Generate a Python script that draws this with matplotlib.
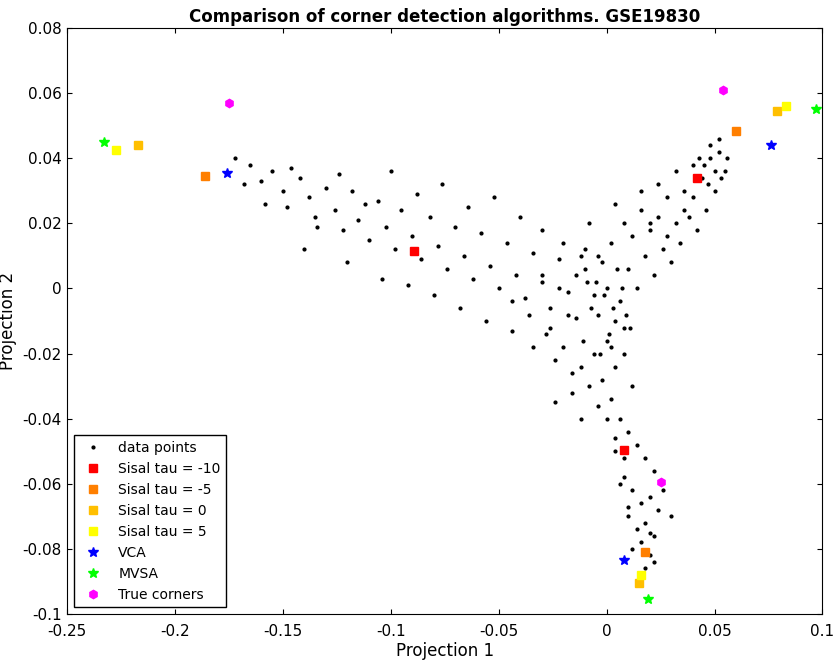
import matplotlib.pyplot as plt

# hand-read sample of the data cloud (approximate)
data_x = [
    -0.172, -0.165, -0.160, -0.155, -0.150, -0.148, -0.142, -0.138, -0.135, -0.130,
    -0.126, -0.122, -0.118, -0.115, -0.110, -0.106, -0.102, -0.098, -0.095, -0.090,
    -0.086, -0.082, -0.078, -0.074, -0.070, -0.066, -0.062, -0.058, -0.054, -0.050,
    -0.046, -0.042, -0.038, -0.034, -0.030, -0.026, -0.022, -0.018, -0.014, -0.010,
    -0.168, -0.158, -0.146, -0.134, -0.124, -0.112, -0.100, -0.088, -0.076, -0.064,
    -0.052, -0.040, -0.030, -0.020, -0.012, -0.140, -0.120, -0.104, -0.092, -0.080,
    -0.068, -0.056, -0.044, -0.034, -0.024, -0.016, -0.008, -0.004, 0.000, 0.004,
    0.008, 0.012, 0.016, 0.020, 0.024, 0.028, 0.032, 0.036, 0.040, 0.044,
    0.048, 0.052, 0.055, 0.050, 0.046, 0.042, 0.038, 0.034, 0.030, 0.026,
    0.022, 0.018, 0.014, 0.010, 0.006, 0.002, -0.002, -0.006, -0.010, -0.014,
    -0.018, -0.022, -0.026, -0.030, -0.006, -0.002, 0.002, 0.006, 0.010, 0.014,
    0.018, 0.022, 0.004, 0.008, 0.012, 0.016, 0.020, 0.024, 0.010, 0.014,
    0.018, 0.022, 0.012, 0.016, 0.020, 0.018, 0.022, 0.020, -0.004, 0.000,
    0.004, 0.008, -0.008, -0.012, -0.016, 0.000, 0.004, 0.008, -0.004, 0.002,
    0.045, 0.050, 0.053, 0.048, 0.043, 0.056, 0.052, 0.047, 0.040, 0.036,
    0.032, 0.028, 0.024, 0.020, 0.016, 0.012, 0.008, 0.004, -0.020, -0.028,
    -0.036, -0.044, -0.024, -0.012, 0.006, 0.010, 0.026, 0.030, -0.001, 0.003,
    -0.005, 0.001, 0.005, -0.003, 0.007, -0.007, 0.009, -0.009, 0.011, -0.011,
]
data_y = [
    0.040, 0.038, 0.033, 0.036, 0.030, 0.025, 0.034, 0.028, 0.022, 0.031,
    0.024, 0.018, 0.030, 0.021, 0.015, 0.027, 0.019, 0.012, 0.024, 0.016,
    0.009, 0.022, 0.013, 0.006, 0.019, 0.010, 0.003, 0.017, 0.007, 0.000,
    0.014, 0.004, -0.003, 0.011, 0.002, -0.006, 0.009, -0.001, -0.009, 0.006,
    0.032, 0.026, 0.037, 0.019, 0.035, 0.026, 0.036, 0.029, 0.032, 0.025,
    0.028, 0.022, 0.018, 0.014, 0.010, 0.012, 0.008, 0.003, 0.001, -0.002,
    -0.006, -0.010, -0.013, -0.018, -0.022, -0.026, 0.020, 0.010, 0.000, -0.010,
    -0.020, -0.030, 0.030, 0.020, 0.032, 0.028, 0.036, 0.030, 0.038, 0.034,
    0.040, 0.042, 0.036, 0.030, 0.024, 0.018, 0.022, 0.014, 0.008, 0.012,
    0.004, 0.010, 0.000, 0.006, -0.004, 0.014, 0.008, -0.002, 0.012, 0.004,
    -0.008, 0.000, -0.012, 0.004, -0.020, -0.028, -0.034, -0.040, -0.044, -0.048,
    -0.052, -0.056, -0.050, -0.058, -0.062, -0.066, -0.064, -0.068, -0.070, -0.074,
    -0.072, -0.076, -0.080, -0.078, -0.082, -0.086, -0.084, -0.075, -0.036, -0.040,
    -0.046, -0.052, -0.030, -0.024, -0.032, -0.016, -0.024, -0.012, -0.008, -0.018,
    0.038, 0.036, 0.034, 0.044, 0.040, 0.040, 0.046, 0.032, 0.028, 0.024,
    0.020, 0.016, 0.022, 0.018, 0.024, 0.016, 0.020, 0.026, -0.018, -0.014,
    -0.008, -0.004, -0.035, -0.040, -0.060, -0.067, -0.062, -0.070, -0.002, -0.006,
    0.002, -0.014, 0.006, -0.020, 0.000, -0.006, -0.008, 0.002, -0.012, -0.016,
]

sisal_m10_x = [-0.089, 0.042, 0.008]
sisal_m10_y = [0.0115, 0.034, -0.0495]
sisal_m5_x = [-0.186, 0.060, 0.018]
sisal_m5_y = [0.0345, 0.0485, -0.081]
sisal_0_x = [-0.217, 0.079, 0.015]
sisal_0_y = [0.044, 0.0545, -0.0905]
sisal_5_x = [-0.227, 0.083, 0.016]
sisal_5_y = [0.0425, 0.056, -0.088]
vca_x = [-0.176, 0.076, 0.008]
vca_y = [0.0355, 0.044, -0.0835]
mvsa_x = [-0.233, 0.097, 0.019]
mvsa_y = [0.045, 0.055, -0.0955]
true_x = [-0.175, 0.054, 0.025]
true_y = [0.057, 0.061, -0.0595]

fig = plt.figure(figsize=(8.35, 6.66), dpi=100)
ax = fig.add_axes([0.080, 0.078, 0.905, 0.880])

ax.plot(data_x, data_y, ".", color="black", markersize=4, label="data points")
ax.plot(sisal_m10_x, sisal_m10_y, "s", color="#ff0000", markersize=6, label="Sisal tau = -10")
ax.plot(sisal_m5_x, sisal_m5_y, "s", color="#ff7f00", markersize=6, label="Sisal tau = -5")
ax.plot(sisal_0_x, sisal_0_y, "s", color="#ffbf00", markersize=6, label="Sisal tau = 0")
ax.plot(sisal_5_x, sisal_5_y, "s", color="#ffff00", markersize=6, label="Sisal tau = 5")
ax.plot(vca_x, vca_y, "*", color="#0000ff", markersize=7, label="VCA")
ax.plot(mvsa_x, mvsa_y, "*", color="#00ff00", markersize=7, label="MVSA")
ax.plot(true_x, true_y, "h", color="#ff00ff", markersize=6, label="True corners")

ax.set_xlim(-0.25, 0.1)
ax.set_ylim(-0.1, 0.08)
ax.set_xticks([-0.25, -0.2, -0.15, -0.1, -0.05, 0, 0.05, 0.1])
ax.set_xticklabels(["-0.25", "-0.2", "-0.15", "-0.1", "-0.05", "0", "0.05", "0.1"])
ax.set_yticks([-0.1, -0.08, -0.06, -0.04, -0.02, 0, 0.02, 0.04, 0.06, 0.08])
ax.set_yticklabels(["-0.1", "-0.08", "-0.06", "-0.04", "-0.02", "0", "0.02", "0.04", "0.06", "0.08"])
ax.tick_params(direction="in", top=True, right=True, labelsize=11)
ax.tick_params(axis="x", pad=7)
ax.set_xlabel("Projection 1", fontsize=12, labelpad=2)
ax.set_ylabel("Projection 2", fontsize=12)
ax.set_title("Comparison of corner detection algorithms. GSE19830", fontsize=12,
             fontweight="bold", pad=4)
ax.legend(loc="lower left", fontsize=10, fancybox=False, edgecolor="black", framealpha=1)

fig.savefig("out.png", dpi=100)
